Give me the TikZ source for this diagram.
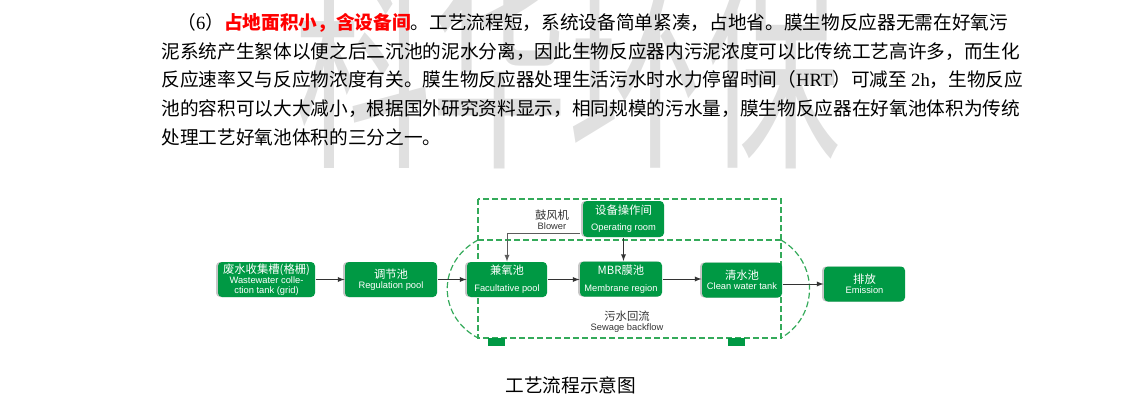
\documentclass[tikz,border=0pt]{standalone}
\usepackage{fontspec}
\usepackage{graphicx}
\setmainfont{Liberation Serif}
\newfontfamily\cjk{Noto Sans CJK SC}
\newfontfamily\hei{Liberation Sans}
\usetikzlibrary{shadows}

\definecolor{poolgreen}{RGB}{0,153,68}
\definecolor{dashgreen}{RGB}{52,170,90}
\definecolor{markgray}{RGB}{224,224,224}
\definecolor{flowgray}{RGB}{51,51,51}

\newcommand{\zh}[1]{{\cjk\fontsize{8.5}{7.5}\selectfont #1}}
\newcommand{\en}[1]{{\hei\fontsize{7}{7.5}\selectfont #1}}
\newcommand{\lat}[1]{{\rmfamily #1}}

\tikzset{every picture/.style={line width=0.75pt}}
\tikzset{
	pool/.style={fill=poolgreen, rounded corners=3pt, text=white, align=center, inner sep=0pt, minimum height=26.25pt, general shadow={fill=black!22, shadow xshift=-1.5pt, shadow yshift=0pt}, font=\fontsize{7}{7.5}\selectfont},
	flow/.style={draw=flowgray, -latex},
	backline/.style={draw=dashgreen, line width=0.9pt, dash pattern=on 4.5pt off 2.25pt},
	bodyline/.style={anchor=base west, inner sep=0pt, font=\cjk\fontsize{14}{21}\selectfont},
	tag/.style={text=flowgray, align=center, inner sep=0pt, font=\fontsize{7}{7.5}\selectfont}
}

\begin{document}
\begin{tikzpicture}[x=0.75pt,y=0.75pt,yscale=-1,xscale=1]
	\useasboundingbox (0,0) rectangle (1122,400);
	
	%Watermark
	\begin{scope}
		\clip (0,0) rectangle (1122,173);
		\node [text=markgray, inner sep=0pt] (mark) at (568,62) {\scalebox{0.62}[1.05]{\cjk\fontsize{165}{165}\selectfont 科华环保}};
	\end{scope}
	
	%Paragraph
	\node [bodyline] (line1) at (177,29.5) {（\lat{6}）\textcolor{red}{\bfseries 占地面积小，含设备间}。工艺流程短，系统设备简单紧凑，占地省。膜生物反应器无需在好氧污};
	\node [bodyline] (line2) at (161,58.2) {泥系统产生絮体以便之后二沉池的泥水分离，因此生物反应器内污泥浓度可以比传统工艺高许多，而生化};
	\node [bodyline] (line3) at (161,86.9) {反应速率又与反应物浓度有关。膜生物反应器处理生活污水时水力停留时间（\lat{HRT}）可减至 \lat{2h}，生物反应};
	\node [bodyline] (line4) at (161,115.6) {池的容积可以大大减小，根据国外研究资料显示，相同规模的污水量，膜生物反应器在好氧池体积为传统};
	\node [bodyline] (line5) at (161,144.3) {处理工艺好氧池体积的三分之一。};
	
	%Dashed frame
	\draw [backline] (478,199) rectangle (781,338);
	\draw [backline] (478,240) -- (781,240);
	\draw [backline] (478,240) .. controls (437,262) and (437,316) .. (478,338);
	\draw [backline] (781,240) .. controls (819,262) and (819,316) .. (781,338);
	\fill [poolgreen] (488,338) rectangle (505,346);
	\fill [poolgreen] (728,338) rectangle (745,346);
	
	%Pools
	\node [pool, minimum width=72.75pt] (tank) at (266.5,279.5) {\zh{废水收集槽(格栅)}\\\en{Wastewater colle-}\\\en{ction tank (grid)}};
	\node [pool, minimum width=69pt] (regul) at (391,279.5) {\zh{调节池}\\\en{Regulation pool}};
	\node [pool, minimum width=60pt] (facul) at (507,279.5) {\zh{兼氧池}\\[5pt]\en{Facultative pool}};
	\node [pool, minimum width=61.5pt] (mbr) at (621,279) {\zh{MBR膜池}\\[5pt]\en{Membrane region}};
	\node [pool, minimum width=60pt] (clean) at (742,280) {\zh{清水池}\\\en{Clean water tank}};
	\node [pool, minimum width=60.75pt] (emit) at (864.5,284) {\zh{排放}\\\en{Emission}};
	\node [pool, minimum width=60.75pt, minimum height=27pt] (oproom) at (623.5,219) {\zh{设备操作间}\\[4.5pt]\en{Operating room}};
	
	%Labels
	\node [tag] (blower) at (552,220) {\zh{鼓风机}\\\en{Blower}};
	\node [tag] (backflow) at (627,322) {\zh{污水回流}\\\en{Sewage backflow}};
	
	%Flow
	\draw [flow] (tank) -- (regul);
	\draw [flow] (regul) -- (facul);
	\draw [flow] (facul.east) -- (facul.east -| mbr.west);
	\draw [flow] (mbr.east) -- (mbr.east -| clean.west);
	\draw [flow] (clean.east |- emit.west) -- (emit.west);
	\coordinate (blowtap) at (580,233);
	\draw [flow, draw=flowgray!80] (blowtap) -| (facul.north);
	\draw [flow] (oproom.south) -- (oproom.south |- mbr.north);
	
	%Caption
	\node [bodyline] (caption) at (505,392) {工艺流程示意图};
	
\end{tikzpicture}
\end{document}
